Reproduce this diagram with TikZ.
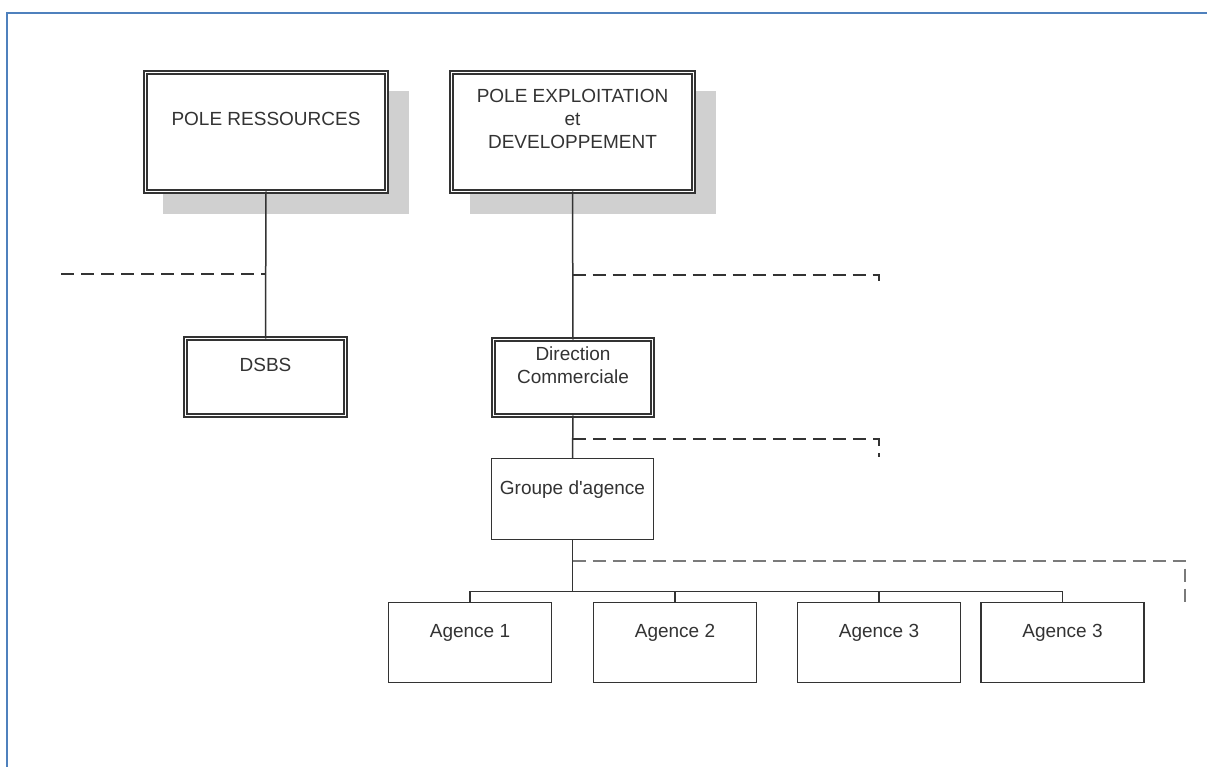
\documentclass[tikz,border=0pt]{standalone}
\usepackage{fontspec}
\setmainfont{Liberation Sans}
\usetikzlibrary{backgrounds}
\definecolor{ink}{HTML}{333333}
\definecolor{frameblue}{HTML}{4F81BD}
\definecolor{shadowgray}{HTML}{D0D0D0}
\definecolor{dashgray}{HTML}{7A7A7A}
\tikzset{
  dblbox/.style={draw=ink, line width=1.5pt, double=white, double distance=1.8pt,
                 fill=white, inner sep=0pt, outer sep=0pt},
  sglbox/.style={draw=ink, line width=1.5pt, fill=white, inner sep=0pt, outer sep=0pt},
  txt/.style={font=\fontsize{19}{23}\selectfont, text=ink, inner sep=0pt, outer sep=0pt},
  link/.style={draw=ink, line width=1.5pt},
  dashlink/.style={draw=ink, line width=1.5pt, dash pattern=on 13pt off 7pt},
  dashlinklight/.style={draw=dashgray, line width=1.7pt, dash pattern=on 13pt off 7pt},
  shadowfill/.style={fill=shadowgray}
}
\begin{document}
\begin{tikzpicture}[x=1pt,y=-1pt]
\useasboundingbox (0,0) rectangle (1207,767);

% page frame
\draw[frameblue, line width=2.5pt] (7,767) -- (7,13) -- (1207,13);

% boxes
\node[dblbox, minimum width=241pt, minimum height=119pt] (pr) at (266,132) {};
\node[dblbox, minimum width=242pt, minimum height=119pt] (pe) at (572.5,132) {};
\node[dblbox, minimum width=160pt, minimum height=77pt] (dsbs) at (265.5,377) {};
\node[dblbox, minimum width=159pt, minimum height=76pt] (dc) at (573,377.5) {};
\node[sglbox, minimum width=162pt, minimum height=81pt] (ga) at (572.5,499) {};
\node[sglbox, minimum width=163pt, minimum height=80pt] (a1) at (470,642.5) {};
\node[sglbox, minimum width=163pt, minimum height=80pt] (a2) at (675,642.5) {};
\node[sglbox, minimum width=163pt, minimum height=80pt] (a3) at (879,642.5) {};
\node[sglbox, minimum width=163pt, minimum height=80pt] (a4) at (1062.5,642.5) {};

% box labels
\node[txt, anchor=base] (prt) at (266,126) {POLE RESSOURCES};
\node[txt, align=center, anchor=north] (pet) at (572.5,89.5) {POLE EXPLOITATION\\et\\DEVELOPPEMENT};
\node[txt, anchor=base] (dsbst) at (265.5,371.5) {DSBS};
\node[txt, align=center, anchor=north] (dct) at (573,346.5) {Direction\\Commerciale};
\node[txt, anchor=base] (gat) at (572.5,494.5) {Groupe d\textquotesingle agence};
\node[txt, anchor=base] (a1t) at (470,637.5) {Agence 1};
\node[txt, anchor=base] (a2t) at (675,637.5) {Agence 2};
\node[txt, anchor=base] (a3t) at (879,637.5) {Agence 3};
\node[txt, anchor=base] (a4t) at (1062.5,637.5) {Agence 3};

% drop shadows and white page behind everything
\begin{scope}[on background layer]
  \fill[white] (0,0) rectangle (1207,767);
  \fill[shadowfill] ([shift={(17.5,18.5)}]pr.north west) rectangle ([shift={(22.5,22.5)}]pr.south east);
  \fill[shadowfill] ([shift={(18.5,18.5)}]pe.north west) rectangle ([shift={(22.5,22.5)}]pe.south east);
\end{scope}

% hierarchy links
\draw[link] (pr.south) -- (dsbs.north);
\draw[link] (pe.south) -- (dc.north);
\draw[link] (dc.south) -- (ga.north);
\draw[link] (ga.south) -- ++(0,52) coordinate (bus);
\draw[link] (bus) -| (a1.north);
\draw[link] (bus) -| (a2.north);
\draw[link] (bus) -| (a3.north);
\draw[link] (bus) -| (a4.north);

% dashed links
\coordinate (dl) at (61,274);
\draw[dashlink] (dl) -- (dl -| pr.south);
\coordinate (de1) at (879,285);
\draw[dashlink] (pe.south |- 0,275) -| (de1);
\coordinate (de2) at (879,457);
\draw[dashlink] (dc.south |- 0,439) -| (de2);
\coordinate (de3) at (1185,603);
\draw[dashlinklight] (ga.south |- 0,561) -| (de3);
\end{tikzpicture}
\end{document}
